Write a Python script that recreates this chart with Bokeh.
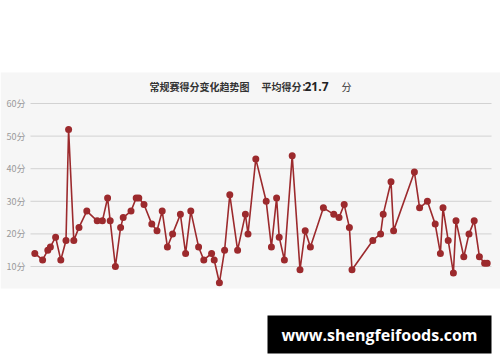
import numpy as np
from bokeh.plotting import figure
from bokeh.models import Range1d, ColumnDataSource
from bokeh.core.properties import value
from bokeh.embed import file_html
from bokeh.resources import INLINE

# Regular-season scoring log: day of the season and points scored that game
game_day = [0, 3, 5, 6, 8, 10, 12, 13, 15, 17,
            20, 24, 26, 28, 29, 31, 33, 34, 37, 39,
            40, 42, 45, 47, 49, 51, 53, 56, 58, 60,
            63, 65, 68, 69, 71, 73, 75, 78, 81, 82,
            85, 89, 91, 93, 94, 96, 99, 102, 104, 106,
            111, 115, 117, 119, 121, 122, 130, 133, 134, 137,
            138, 146, 148, 151, 154, 156, 157, 159, 161, 162,
            165, 167, 169, 171, 173, 174]
points = [14, 12, 15, 16, 19, 12, 18, 52, 18, 22,
          27, 24, 24, 31, 24, 10, 22, 25, 27, 31,
          31, 29, 23, 21, 27, 16, 20, 26, 14, 27,
          16, 12, 14, 12, 5, 15, 32, 15, 26, 20,
          43, 30, 16, 31, 19, 12, 44, 9, 21, 16,
          28, 26, 25, 29, 22, 9, 18, 20, 26, 36,
          21, 39, 28, 30, 23, 14, 28, 18, 8, 24,
          13, 20, 24, 13, 11, 11]

grid_values = [10, 20, 30, 40, 50, 60]
grid_labels = ["10分", "20分", "30分", "40分", "50分", "60分"]

title_text = "常规赛得分变化趋势图"
avg_caption = "平均得分："
avg_unit = "分"
site_text = "www.shengfeifoods.com"

avg_text = f"{np.mean(points):.1f}"

W, H = 500, 362
# screen placement of the scales
X_ORIGIN, X_STEP = 34.3, 2.6    # px of day 0, px per day
Y_TEN, Y_STEP = 266.0, 3.26     # px of the 10-point line, px per point

x_start = -X_ORIGIN / X_STEP
x_end = (W - X_ORIGIN) / X_STEP
y_end = 10 + Y_TEN / Y_STEP
y_start = 10 - (H - Y_TEN) / Y_STEP


def dx(px):
    return x_start + px * (x_end - x_start) / W


def dy(py):
    return y_end - py * (y_end - y_start) / H


CJK = value("Noto Sans CJK SC")
RED = "#9c2a2d"

p = figure(width=W, height=H,
           x_range=Range1d(x_start, x_end), y_range=Range1d(y_start, y_end),
           x_axis_location=None, y_axis_location=None,
           toolbar_location=None, output_backend="svg", min_border=0)
p.grid.visible = False
p.outline_line_color = None
p.background_fill_color = "white"
p.border_fill_color = "white"

# light panel behind the chart
p.quad(left=[x_start], right=[x_end], top=[dy(72)], bottom=[dy(288)],
       fill_color="#f6f6f6", line_color=None)

# horizontal grid lines and their labels
grid_src = ColumnDataSource(dict(v=grid_values, lab=grid_labels))
p.segment(x0=dx(30), x1=dx(491), y0="v", y1="v", source=grid_src,
          line_color="#d2d2d2", line_width=1)
p.text(x=dx(25), y="v", text="lab", source=grid_src,
       text_align="right", text_baseline="middle",
       text_font=CJK, text_font_size="9px", text_color="#9a9a9a")

# scoring line
src = ColumnDataSource(dict(day=game_day, pts=points))
p.line("day", "pts", source=src, line_color=RED, line_width=1.6)
p.scatter("day", "pts", source=src, size=7, fill_color=RED, line_color=None)

# heading with season average
p.text(x=[dx(149)], y=[dy(86)], text=[title_text], text_align="left",
       text_baseline="middle", text_font=CJK, text_font_size="10px",
       text_font_style="bold", text_color="#333333")
p.text(x=[dx(261)], y=[dy(86)], text=[avg_caption], text_align="left",
       text_baseline="middle", text_font=CJK, text_font_size="10px",
       text_font_style="bold", text_color="#333333")
p.text(x=[dx(304)], y=[dy(86)], text=[avg_text], text_align="left",
       text_baseline="middle", text_font=value("Open Sans"),
       text_font_size="12px", text_font_style="bold", text_color="#222222")
p.text(x=[dx(341)], y=[dy(86)], text=[avg_unit], text_align="left",
       text_baseline="middle", text_font=CJK, text_font_size="10px",
       text_color="#333333")

# site badge
p.quad(left=[dx(267)], right=[dx(491)], top=[dy(315)], bottom=[dy(353)],
       fill_color="black", line_color=None)
p.text(x=[dx(379)], y=[dy(334)], text=[site_text], text_align="center",
       text_baseline="middle", text_font=value("Open Sans"),
       text_font_size="16px", text_font_style="bold", text_color="white")

open("out.html", "w").write(file_html(p, INLINE))
